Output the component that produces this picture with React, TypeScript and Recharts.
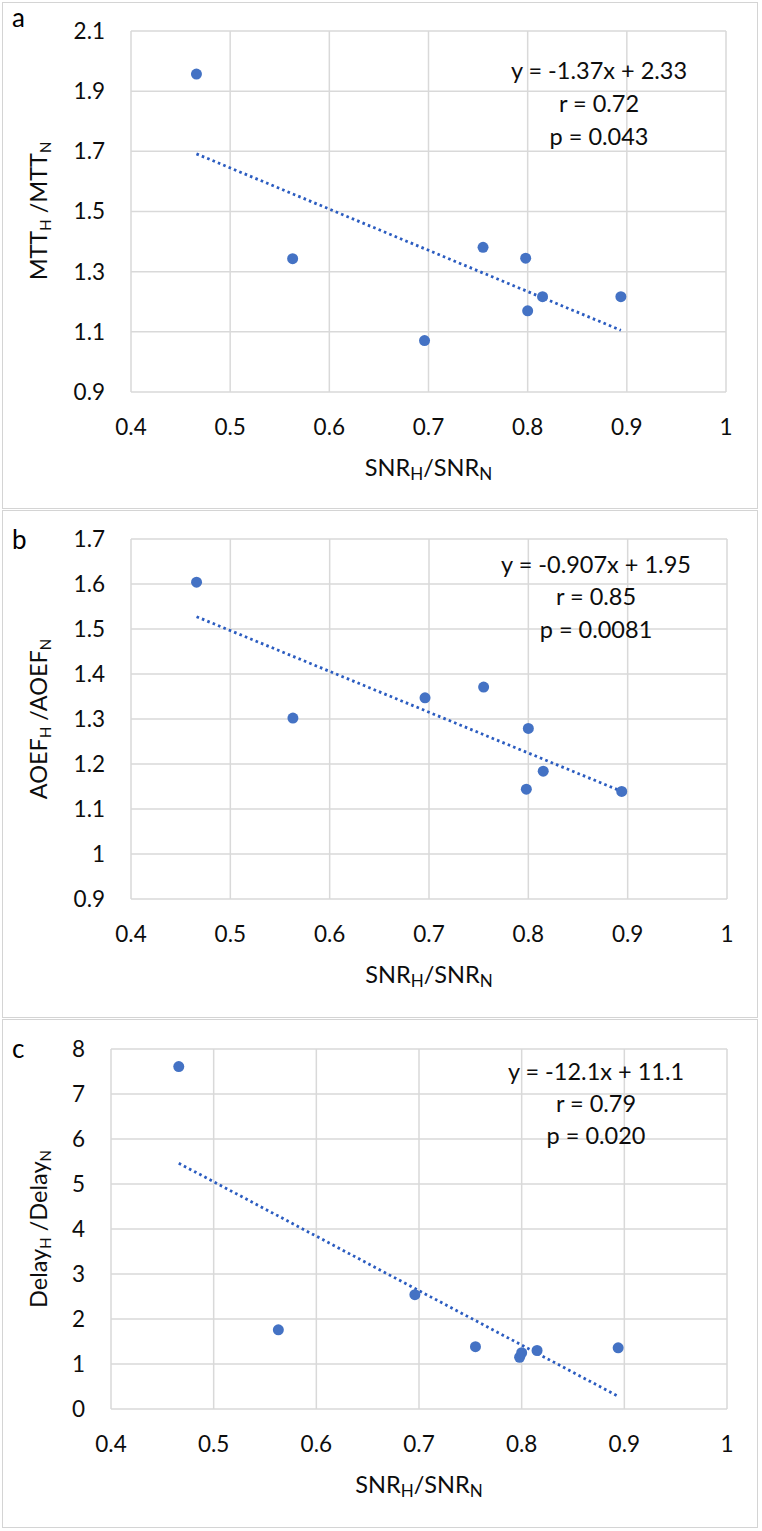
import React from "react";
import { ScatterChart, Scatter, XAxis, YAxis, CartesianGrid } from "recharts";

// SNR ratio (hypercapnia / normocapnia) for each subject
const snrRatio = [0.466, 0.563, 0.696, 0.755, 0.798, 0.8, 0.815, 0.894];

// Panel a: mean transit time ratio
const mttRatio = [1.957, 1.343, 1.071, 1.381, 1.345, 1.17, 1.217, 1.217];
// Panel b: arterial oxygen extraction fraction ratio
const aoefRatio = [1.604, 1.302, 1.347, 1.371, 1.144, 1.279, 1.184, 1.139];
// Panel c: delay ratio
const delayRatio = [7.61, 1.76, 2.54, 1.385, 1.15, 1.25, 1.3, 1.36];

const xTicks = [0.4, 0.5, 0.6, 0.7, 0.8, 0.9, 1];
const mttTicks = [0.9, 1.1, 1.3, 1.5, 1.7, 1.9, 2.1];
const aoefTicks = [0.9, 1, 1.1, 1.2, 1.3, 1.4, 1.5, 1.6, 1.7];
const delayTicks = [0, 1, 2, 3, 4, 5, 6, 7, 8];

// Linear fits (slope, intercept) and their annotation lines
const mttFit = [-1.37, 2.33];
const aoefFit = [-0.907, 1.95];
const delayFit = [-12.1, 11.1];
const mttStats = ["y = -1.37x + 2.33", "r = 0.72", "p = 0.043"];
const aoefStats = ["y = -0.907x + 1.95", "r = 0.85", "p = 0.0081"];
const delayStats = ["y = -12.1x + 11.1", "r = 0.79", "p = 0.020"];

const FONT = "Lato, 'Open Sans', sans-serif";
const DOT = "#4472C4";
const TREND = "#2B5CC0";
const GRID = "#d9d9d9";
const TEXT = "#0d0d0d";
const PAGE_W = 762;

type PanelProps = {
  letter: string;
  ys: number[];
  yTicks: number[];
  fit: number[];
  stats: string[];
  yName: string;
  top: number;
  height: number;
  margin: { top: number; right: number; bottom: number; left: number };
  yAxisWidth: number;
  letterY: number;
  statsX: number;
  statsY: number[];
  yTitleY: number;
};

const Dot = (props: any) => {
  if (props.cx == null || props.cy == null) return <g />;
  return <circle cx={props.cx} cy={props.cy} r={5.5} fill={DOT} />;
};

const NoShape = () => <g />;

function Panel(p: PanelProps) {
  const points = snrRatio.map((x, i) => ({ x, y: p.ys[i] }));
  const xMin = Math.min(...snrRatio);
  const xMax = Math.max(...snrRatio);
  const trend = [
    { x: xMin, y: p.fit[0] * xMin + p.fit[1] },
    { x: xMax, y: p.fit[0] * xMax + p.fit[1] },
  ];
  const plotLeft = p.margin.left + p.yAxisWidth;
  const plotRight = PAGE_W - p.margin.right;
  const plotBottom = p.height - p.margin.bottom - 40;
  const xTitleX = (plotLeft + plotRight) / 2;
  const tickStyle = { fontSize: 22.5, fill: TEXT, fontFamily: FONT };

  return (
    <div style={{ position: "absolute", left: 0, top: p.top, width: PAGE_W, height: p.height }}>
      <ScatterChart width={PAGE_W} height={p.height} margin={p.margin}>
        <CartesianGrid stroke={GRID} strokeWidth={1.5} />
        <XAxis
          type="number"
          dataKey="x"
          domain={[0.4, 1]}
          ticks={xTicks}
          allowDataOverflow
          axisLine={false}
          tickLine={false}
          tickSize={0}
          tickMargin={27}
          height={40}
          tick={tickStyle}
          interval={0}
        />
        <YAxis
          type="number"
          dataKey="y"
          domain={[p.yTicks[0], p.yTicks[p.yTicks.length - 1]]}
          ticks={p.yTicks}
          allowDataOverflow
          axisLine={false}
          tickLine={false}
          tickSize={0}
          tickMargin={26}
          width={p.yAxisWidth}
          tick={tickStyle}
          interval={0}
        />
        <Scatter
          data={trend}
          line={{ stroke: TREND, strokeWidth: 2.8, strokeDasharray: "2.6 3.2" }}
          shape={NoShape}
          isAnimationActive={false}
        />
        <Scatter data={points} shape={Dot} isAnimationActive={false} />
      </ScatterChart>
      <svg
        width={PAGE_W}
        height={p.height}
        style={{ position: "absolute", left: 0, top: 0, pointerEvents: "none" }}
        fontFamily={FONT}
      >
        <text x={12} y={p.letterY} fontSize={26} fill="#000">
          {p.letter}
        </text>
        <text
          transform={`translate(47, ${p.yTitleY}) rotate(-90)`}
          textAnchor="middle"
          fontSize={23.5}
          fill={TEXT}
        >
          {p.yName}
          <tspan fontSize={15} dy={4}>H</tspan>
          <tspan dy={-4}>{" /" + p.yName}</tspan>
          <tspan fontSize={15} dy={4}>N</tspan>
        </text>
        <text x={xTitleX} y={plotBottom + 84} textAnchor="middle" fontSize={23.5} fill={TEXT}>
          SNR
          <tspan fontSize={17} dy={4}>H</tspan>
          <tspan dy={-4}>/SNR</tspan>
          <tspan fontSize={17} dy={4}>N</tspan>
        </text>
        {p.stats.map((s, i) => (
          <text key={i} x={p.statsX} y={p.statsY[i]} textAnchor="middle" fontSize={23.5} fill={TEXT}>
            {s}
          </text>
        ))}
      </svg>
    </div>
  );
}

const boxStyle = (top: number, height: number): React.CSSProperties => ({
  position: "absolute",
  left: 2,
  top,
  width: 756,
  height,
  boxSizing: "border-box",
  border: "1.5px solid #d4d4d4",
  background: "#fff",
});

export default function App() {
  return (
    <div
      style={{
        position: "absolute",
        left: 0,
        top: 0,
        width: 762,
        height: 1531,
        background: "#fff",
        overflow: "hidden",
      }}
    >
      <div style={boxStyle(2, 507)} />
      <div style={boxStyle(510, 508)} />
      <div style={boxStyle(1019, 509)} />
      <Panel
        letter="a"
        ys={mttRatio}
        yTicks={mttTicks}
        fit={mttFit}
        stats={mttStats}
        yName="MTT"
        top={0}
        height={510}
        margin={{ top: 31, right: 36, bottom: 78, left: 0 }}
        yAxisWidth={131}
        letterY={27}
        statsX={599}
        statsY={[79, 112, 145]}
        yTitleY={211}
      />
      <Panel
        letter="b"
        ys={aoefRatio}
        yTicks={aoefTicks}
        fit={aoefFit}
        stats={aoefStats}
        yName="AOEF"
        top={510}
        height={508}
        margin={{ top: 29, right: 35, bottom: 79, left: 0 }}
        yAxisWidth={131}
        letterY={39}
        statsX={596}
        statsY={[63, 95, 128]}
        yTitleY={209}
      />
      <Panel
        letter="c"
        ys={delayRatio}
        yTicks={delayTicks}
        fit={delayFit}
        stats={delayStats}
        yName="Delay"
        top={1018}
        height={513}
        margin={{ top: 31, right: 35, bottom: 82, left: 0 }}
        yAxisWidth={111}
        letterY={40}
        statsX={596}
        statsY={[62, 94, 126]}
        yTitleY={211}
      />
    </div>
  );
}
